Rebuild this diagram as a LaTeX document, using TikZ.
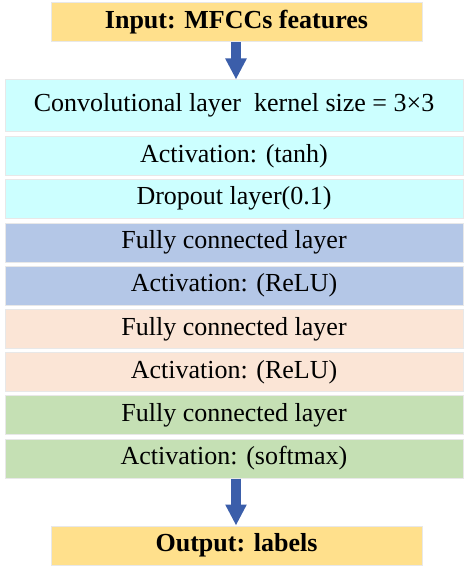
\documentclass[tikz,border=0pt]{standalone}
\usepackage{fontspec}
\setmainfont{Liberation Serif}
\usetikzlibrary{arrows.meta}
\definecolor{layercyan}{RGB}{204,255,255}
\definecolor{layerblue}{RGB}{180,199,231}
\definecolor{layerpeach}{RGB}{251,229,214}
\definecolor{layergreen}{RGB}{197,224,180}
\definecolor{ioyellow}{RGB}{255,224,140}
\definecolor{flowblue}{RGB}{59,94,170}
\definecolor{edgegray}{RGB}{232,232,232}
\tikzset{
	layerbox/.style={draw=edgegray, line width=1pt, minimum width=458pt, minimum height=39pt, inner sep=0pt, font=\fontsize{26}{30}\selectfont},
	iobox/.style={draw=edgegray, line width=1pt, fill=ioyellow, minimum width=371pt, minimum height=39pt, inner sep=0pt, font=\fontsize{26}{30}\selectfont\bfseries},
	flowarrow/.style={draw=flowblue, line width=10pt, -{Triangle[width=20pt,length=21pt]}}
}

\begin{document}
\begin{tikzpicture}[x=1pt, y=-1pt]
			%%%%% START %%%%%
			\useasboundingbox (0, 0) rectangle (463, 567);
			
			\node[iobox] (input) at (236.5, 22.5) {Input: MFCCs features};
			
			\node[layerbox, fill=layercyan, minimum height=51pt] (conv) at (234, 105.5) {Convolutional layer\ \ kernel size = 3×3};
			\node[layerbox, fill=layercyan] (tanh) at (234, 156) {Activation: (tanh)};
			\node[layerbox, fill=layercyan] (drop) at (234, 198.5) {Dropout layer(0.1)};
			
			\node[layerbox, fill=layerblue] (fcone) at (234, 242.5) {Fully connected layer};
			\node[layerbox, fill=layerblue] (reluone) at (234, 285.5) {Activation: (ReLU)};
			
			\node[layerbox, fill=layerpeach] (fctwo) at (234, 329) {Fully connected layer};
			\node[layerbox, fill=layerpeach] (relutwo) at (234, 372) {Activation: (ReLU)};
			
			\node[layerbox, fill=layergreen] (fcthree) at (234, 415) {Fully connected layer};
			\node[layerbox, fill=layergreen] (softmax) at (234, 458.5) {Activation: (softmax)};
			
			\node[iobox] (output) at (236.5, 545.5) {Output: labels};
			
			\draw[flowarrow] (input.south -| 236, 0) -- (conv.north -| 236, 0);
			\draw[flowarrow] (softmax.south -| 236, 0) -- (output.north -| 236, 0);
			
			%%%%% END %%%%%
\end{tikzpicture}
\end{document}
